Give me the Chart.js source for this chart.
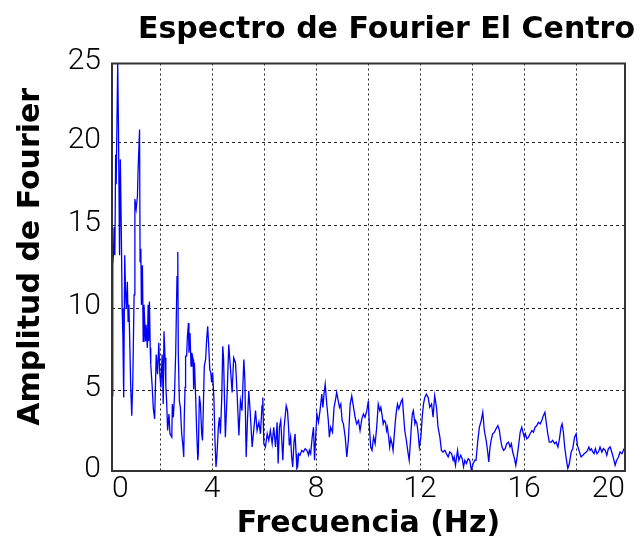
<!DOCTYPE html>
<html lang="es">
<head>
    <meta charset="UTF-8">
    <title>Espectro de Fourier El Centro</title>
    <script src="https://cdn.jsdelivr.net/npm/chart.js"></script>
    <style>
        body { margin: 0; background: #fff; }
        canvas { display: block; }
    </style>
</head>
<body>
    <canvas id="espectro" width="641" height="546"></canvas>
    <script>
        // Fourier spectrum, frequency (Hz) against amplitude
        var frecuencias = [
            0.15, 0.18, 0.21, 0.23, 0.26, 0.29, 0.31, 0.37, 0.40, 0.44,
            0.47, 0.51, 0.54, 0.57, 0.60, 0.64, 0.67, 0.70, 0.74, 0.77,
            0.80, 0.83, 0.87, 0.91, 0.95, 1.00, 1.03, 1.08, 1.13, 1.15,
            1.21, 1.23, 1.26, 1.28, 1.32, 1.35, 1.38, 1.44, 1.46, 1.51,
            1.54, 1.56, 1.59, 1.62, 1.64, 1.69, 1.74, 1.79, 1.85, 1.90,
            1.95, 1.99, 2.03, 2.08, 2.12, 2.15, 2.19, 2.22, 2.25, 2.29,
            2.34, 2.38, 2.45, 2.47, 2.51, 2.55, 2.60, 2.65, 2.68, 2.70,
            2.74, 2.78, 2.83, 2.87, 2.91, 2.93, 2.96, 2.98, 3.02, 3.05,
            3.09, 3.11, 3.15, 3.19, 3.22, 3.27, 3.29, 3.32, 3.37, 3.41,
            3.45, 3.47, 3.51, 3.55, 3.60, 3.63, 3.66, 3.70, 3.75, 3.79,
            3.83, 3.87, 3.91, 3.95, 3.98, 4.02, 4.07, 4.11, 4.15, 4.19,
            4.24, 4.28, 4.32, 4.37, 4.41, 4.44, 4.51, 4.58, 4.64, 4.70,
            4.77, 4.83, 4.90, 4.96, 5.03, 5.09, 5.15, 5.22, 5.26, 5.31,
            5.36, 5.41, 5.47, 5.54, 5.60, 5.67, 5.73, 5.80, 5.86, 5.92,
            5.95, 5.99, 6.05, 6.12, 6.18, 6.24, 6.31, 6.37, 6.44, 6.50,
            6.54, 6.59, 6.64, 6.68, 6.72, 6.77, 6.85, 6.90, 6.94, 6.97,
            7.02, 7.06, 7.10, 7.15, 7.19, 7.23, 7.26, 7.29, 7.33, 7.38,
            7.45, 7.51, 7.58, 7.64, 7.71, 7.74, 7.79, 7.85, 7.90, 7.94,
            7.99, 8.03, 8.09, 8.15, 8.22, 8.26, 8.31, 8.35, 8.41, 8.47,
            8.51, 8.56, 8.63, 8.69, 8.74, 8.79, 8.85, 8.90, 8.95, 9.00,
            9.05, 9.12, 9.18, 9.24, 9.31, 9.37, 9.44, 9.50, 9.56, 9.63,
            9.69, 9.76, 9.82, 9.88, 9.95, 10.01, 10.05, 10.10, 10.15, 10.21,
            10.27, 10.33, 10.39, 10.45, 10.49, 10.54, 10.58, 10.62, 10.67, 10.71,
            10.74, 10.79, 10.83, 10.87, 10.92, 10.96, 11.00, 11.05, 11.09, 11.13,
            11.18, 11.22, 11.28, 11.32, 11.36, 11.41, 11.47, 11.54, 11.58, 11.63,
            11.67, 11.70, 11.74, 11.80, 11.83, 11.88, 11.92, 11.97, 12.03, 12.08,
            12.13, 12.18, 12.24, 12.31, 12.37, 12.44, 12.50, 12.56, 12.63, 12.69,
            12.76, 12.82, 12.88, 12.95, 13.01, 13.08, 13.14, 13.21, 13.27, 13.31,
            13.36, 13.44, 13.49, 13.56, 13.62, 13.67, 13.72, 13.78, 13.85, 13.91,
            13.97, 14.04, 14.10, 14.15, 14.22, 14.28, 14.35, 14.41, 14.47, 14.54,
            14.60, 14.64, 14.69, 14.73, 14.79, 14.86, 14.92, 14.99, 15.05, 15.09,
            15.15, 15.21, 15.27, 15.33, 15.40, 15.46, 15.51, 15.56, 15.63, 15.68,
            15.73, 15.78, 15.85, 15.91, 15.97, 16.01, 16.05, 16.10, 16.17, 16.23,
            16.30, 16.36, 16.42, 16.49, 16.55, 16.62, 16.68, 16.74, 16.80, 16.85,
            16.91, 16.97, 17.04, 17.10, 17.17, 17.23, 17.30, 17.36, 17.42, 17.46,
            17.51, 17.56, 17.62, 17.68, 17.74, 17.81, 17.87, 17.94, 18.00, 18.05,
            18.13, 18.19, 18.26, 18.31, 18.39, 18.44, 18.49, 18.54, 18.59, 18.64,
            18.69, 18.74, 18.80, 18.86, 18.92, 18.99, 19.05, 19.12, 19.18, 19.24,
            19.31, 19.37, 19.44, 19.50, 19.56, 19.63, 19.69, 19.76, 19.82, 19.88
        ];
        var amplitudes = [
            4.7, 12.6, 13.4, 14.9, 13.2, 19.3, 17.5, 24.8, 20.7, 13.2,
            19.0, 14.4, 10.0, 8.2, 4.6, 13.2, 11.0, 10.0, 11.6, 9.2,
            10.2, 8.2, 5.2, 3.5, 5.6, 10.8, 16.6, 16.0, 16.8, 18.2,
            20.8, 12.8, 13.6, 10.2, 12.6, 8.0, 10.2, 8.0, 9.0, 7.6,
            10.2, 8.0, 10.4, 7.6, 6.6, 5.4, 3.9, 3.3, 7.2, 6.0,
            7.9, 6.0, 5.2, 7.2, 4.2, 8.6, 7.0, 5.3, 4.4, 2.6,
            3.6, 2.4, 2.2, 4.2, 3.4, 4.6, 7.3, 11.9, 13.4, 7.3,
            4.4, 4.0, 2.4, 1.8, 1.0, 3.4, 5.2, 7.1, 7.1, 8.3,
            9.1, 7.3, 8.5, 6.5, 7.3, 6.9, 5.1, 6.7, 4.5, 2.4,
            0.8, 1.2, 4.7, 4.2, 2.4, 2.0, 3.8, 6.5, 6.9, 8.1,
            8.9, 7.7, 6.3, 6.1, 5.5, 6.1, 4.5, 2.0, 0.4, 1.2,
            2.8, 3.4, 2.4, 4.5, 7.7, 7.0, 2.2, 4.9, 7.8, 6.5,
            4.9, 7.0, 6.7, 4.9, 2.3, 4.4, 3.8, 6.9, 5.7, 1.0,
            3.2, 5.0, 3.6, 1.6, 2.6, 3.8, 2.6, 3.1, 2.4, 4.1,
            4.6, 1.8, 1.6, 2.4, 2.0, 2.6, 1.8, 2.8, 1.6, 3.1,
            0.6, 2.8, 3.2, 2.0, 0.8, 2.8, 4.1, 3.8, 2.8, 1.7,
            2.2, 1.0, 0.4, 1.9, 2.4, 1.2, 0.3, 0.4, 1.2, 1.1,
            1.4, 1.3, 1.5, 1.4, 1.1, 1.4, 1.2, 2.2, 2.8, 0.8,
            2.4, 3.6, 3.1, 3.8, 4.8, 4.0, 4.9, 5.4, 4.2, 3.2,
            2.2, 2.8, 2.5, 4.0, 4.4, 4.9, 4.4, 4.0, 4.2, 3.2,
            3.0, 2.2, 1.0, 2.0, 4.2, 4.7, 4.0, 3.4, 3.0, 3.2,
            2.6, 3.3, 3.6, 3.4, 3.8, 4.4, 2.8, 1.6, 1.4, 2.2,
            1.8, 2.8, 4.2, 3.8, 4.0, 3.5, 3.0, 3.2, 3.1, 2.6,
            2.8, 2.2, 1.6, 2.1, 1.8, 1.4, 2.2, 3.2, 3.8, 4.2,
            3.9, 4.1, 4.4, 4.5, 3.6, 2.6, 2.0, 1.2, 0.8, 2.0,
            3.0, 3.6, 3.8, 3.0, 3.2, 3.0, 2.5, 1.6, 2.2, 3.4,
            4.2, 4.6, 4.8, 4.6, 4.0, 4.2, 3.4, 4.7, 4.0, 2.8,
            2.2, 1.4, 1.3, 1.4, 1.2, 1.0, 1.3, 1.2, 0.8, 1.0,
            0.5, 1.4, 0.8, 1.1, 0.9, 0.4, 0.8, 0.6, 0.9, 0.8,
            0.2, 0.6, 0.8, 0.8, 2.0, 2.8, 3.2, 3.7, 2.6, 2.0,
            1.3, 0.7, 1.6, 2.0, 2.4, 2.5, 2.7, 2.9, 2.6, 2.1,
            1.6, 1.4, 1.5, 1.8, 1.9, 1.6, 1.8, 1.3, 0.9, 0.5,
            1.0, 1.6, 2.5, 2.8, 2.4, 2.2, 2.4, 2.1, 2.2, 2.4,
            2.6, 2.5, 2.8, 2.9, 3.1, 3.0, 3.2, 3.5, 3.7, 3.1,
            2.4, 1.9, 1.9, 2.0, 1.8, 1.9, 1.6, 2.1, 2.8, 3.0,
            2.5, 1.6, 0.9, 0.3, 0.6, 1.3, 1.5, 2.2, 2.4, 1.7,
            1.3, 1.0, 1.1, 1.2, 1.3, 1.4, 1.6, 1.4, 1.5, 1.3,
            1.2, 1.5, 1.2, 1.3, 1.6, 1.3, 1.5, 1.4, 1.1, 1.5,
            1.6, 1.3, 0.9, 0.5, 0.8, 1.0, 1.3, 1.2, 1.4, 1.6
        ];

        // axis marks; the first and last ones sit on the frame
        var xTicks = [0.15, 2, 4, 6, 8, 10, 12, 14, 16, 18, 19.88];
        var xTickLabels = ['0', '', '4', '', '8', '', '12', '', '16', '', '20'];
        var yTicks = [0.15, 5, 10, 15, 20, 24.8];
        var yTickLabels = ['0', '5', '10', '15', '20', '25'];

        var tickFont = { family: 'Roboto', size: 30, weight: '300' };
        var boldFont = { family: 'DejaVu Sans', size: 30, weight: 'bold' };

        // solid box round the plot area
        var frame = {
            id: 'frame',
            afterDraw: function (chart) {
                var a = chart.chartArea;
                var c = chart.ctx;
                c.save();
                c.strokeStyle = '#333';
                c.lineWidth = 2;
                c.strokeRect(a.left, a.top, a.right - a.left, a.bottom - a.top);
                c.restore();
            }
        };

        var ctx = document.getElementById('espectro').getContext('2d');
        var espectroChart = new Chart(ctx, {
            type: 'line',
            data: {
                datasets: [{
                    data: frecuencias.map(function (f, i) { return { x: f, y: amplitudes[i] }; }),
                    borderColor: '#0000ff',
                    borderWidth: 1.3,
                    pointRadius: 0,
                    tension: 0,
                    fill: false
                }]
            },
            options: {
                responsive: false,
                animation: false,
                layout: { padding: { left: 0, right: 6, top: 0, bottom: 0 } },
                plugins: {
                    legend: { display: false },
                    tooltip: { enabled: false },
                    title: {
                        display: true,
                        text: 'Espectro de Fourier El Centro',
                        align: 'end',
                        color: '#000',
                        font: boldFont,
                        padding: { top: 12, bottom: 15.5 }
                    }
                },
                scales: {
                    x: {
                        type: 'linear',
                        min: 0.15,
                        max: 19.88,
                        afterBuildTicks: function (s) {
                            s.ticks = xTicks.map(function (v) { return { value: v }; });
                        },
                        afterFit: function (s) {
                            s.height = 75;
                            s.paddingLeft = 0;
                            s.paddingRight = 16;
                        },
                        ticks: {
                            autoSkip: false,
                            maxRotation: 0,
                            align: 'inner',
                            padding: 0,
                            color: '#000',
                            font: tickFont,
                            callback: function (v, i) { return xTickLabels[i]; }
                        },
                        grid: { color: '#222', lineWidth: 1, drawTicks: false },
                        border: { display: false, dash: [2, 3] },
                        title: {
                            display: true,
                            text: 'Frecuencia (Hz)',
                            color: '#000',
                            font: boldFont,
                            padding: { top: 0, bottom: 4 }
                        }
                    },
                    y: {
                        type: 'linear',
                        min: 0.15,
                        max: 24.8,
                        afterBuildTicks: function (s) {
                            s.ticks = yTicks.map(function (v) { return { value: v }; });
                        },
                        afterFit: function (s) {
                            s.width = 112;
                            s.paddingTop = 0;
                            s.paddingBottom = 0;
                        },
                        ticks: {
                            autoSkip: false,
                            padding: 11,
                            labelOffset: -2,
                            color: '#000',
                            font: tickFont,
                            callback: function (v, i) { return yTickLabels[i]; }
                        },
                        grid: { color: '#222', lineWidth: 1, drawTicks: false },
                        border: { display: false, dash: [3, 3] },
                        title: {
                            display: true,
                            // two leading spaces lift the rotated text a little above the middle
                            text: '  Amplitud de Fourier',
                            color: '#000',
                            font: boldFont,
                            padding: { top: 13, bottom: 0 }
                        }
                    }
                }
            },
            plugins: [frame]
        });
    </script>
</body>
</html>
